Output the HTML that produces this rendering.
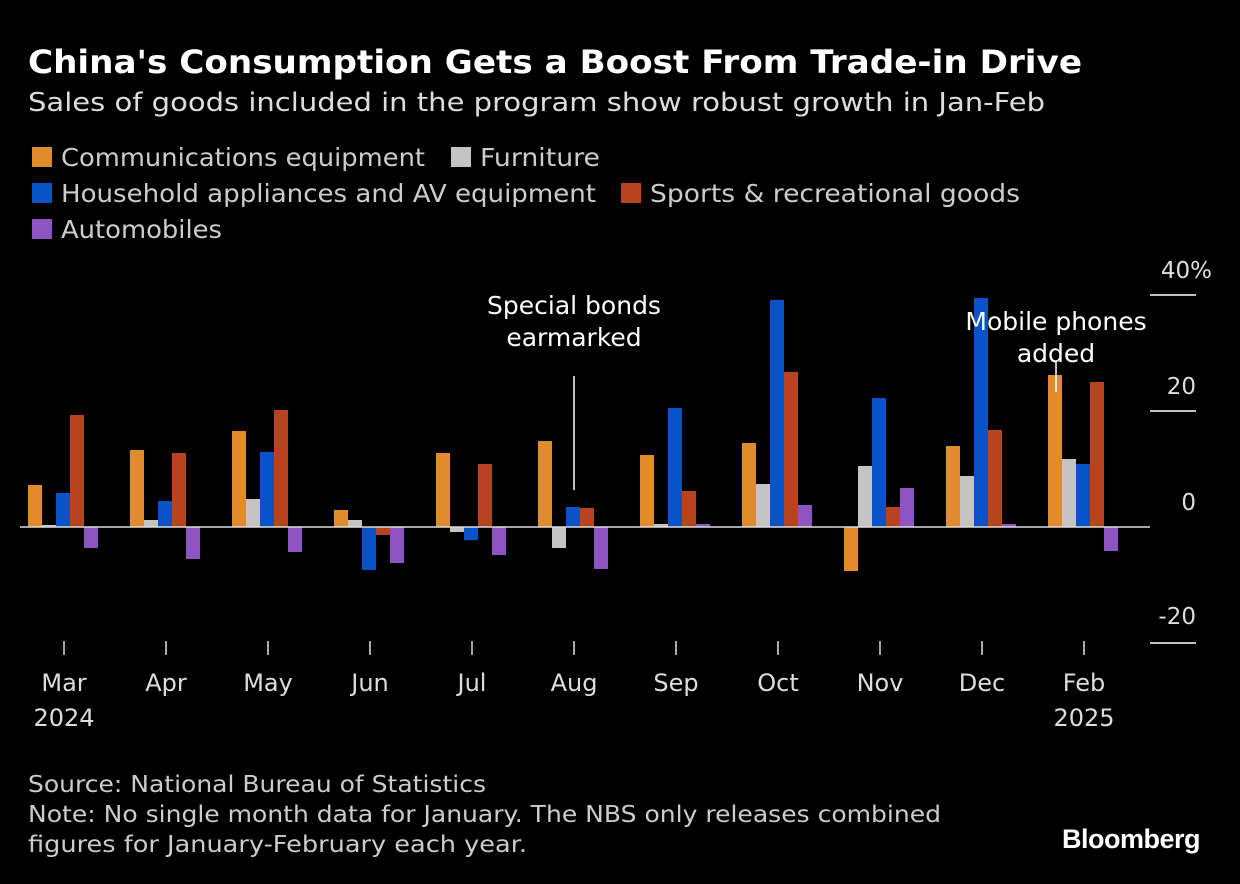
<!DOCTYPE html>
<html><head><meta charset="utf-8"><style>
body{margin:0;background:#000;width:1240px;height:884px;overflow:hidden;font-family:"DejaVu Sans","Liberation Sans",sans-serif;color:#ddd}
svg{position:absolute;left:0;top:0}
</style></head><body>
<svg width="1240" height="884" xmlns="http://www.w3.org/2000/svg" font-family="DejaVu Sans, Liberation Sans, sans-serif">
<text x="28" y="73" fill="#fff" font-size="32" font-weight="bold" textLength="1054" lengthAdjust="spacingAndGlyphs">China's Consumption Gets a Boost From Trade-in Drive</text>
<text x="28" y="111" fill="#ddd" font-size="26" textLength="1017" lengthAdjust="spacingAndGlyphs">Sales of goods included in the program show robust growth in Jan-Feb</text>
<g font-size="25" fill="#ccc">
<rect x="32" y="147" width="20" height="20" fill="#e08c2c"/><text x="61" y="166" textLength="364" lengthAdjust="spacingAndGlyphs">Communications equipment</text>
<rect x="451" y="147" width="20" height="20" fill="#c4c4c4"/><text x="480" y="166" textLength="120" lengthAdjust="spacingAndGlyphs">Furniture</text>
<rect x="32" y="183" width="20" height="20" fill="#0a52c9"/><text x="61" y="202" textLength="535" lengthAdjust="spacingAndGlyphs">Household appliances and AV equipment</text>
<rect x="621" y="183" width="20" height="20" fill="#b8431f"/><text x="650" y="202" textLength="370" lengthAdjust="spacingAndGlyphs">Sports &amp; recreational goods</text>
<rect x="32" y="219" width="20" height="20" fill="#8e55c2"/><text x="61" y="238" textLength="161" lengthAdjust="spacingAndGlyphs">Automobiles</text>
</g>
<g stroke="#fff" stroke-width="1.5">
<line x1="1150" y1="295" x2="1196" y2="295"/><line x1="1150" y1="411" x2="1196" y2="411"/><line x1="1150" y1="643" x2="1196" y2="643"/>
</g>
<g font-size="23" fill="#ddd" text-anchor="end">
<text x="1212" y="278">40%</text><text x="1196" y="394">20</text><text x="1196" y="510">0</text><text x="1196" y="624">-20</text>
</g>
<g id="bars"></g>
<line x1="20" y1="527" x2="1150" y2="527" stroke="#ddd" stroke-width="1.5"/>
<line x1="574" y1="376" x2="574" y2="490" stroke="#fff" stroke-width="1.5"/>
<line x1="1056" y1="362" x2="1056" y2="392" stroke="#fff" stroke-width="1.5"/>
<g font-size="25" fill="#fff" text-anchor="middle">
<text x="574" y="314">Special bonds</text><text x="574" y="346">earmarked</text>
<text x="1056" y="330">Mobile phones</text><text x="1056" y="362">added</text>
</g>
<g id="ticks" stroke="#ddd" stroke-width="1.5"></g>
<g font-size="24" fill="#ddd" text-anchor="middle">
<text x="64" y="691">Mar</text><text x="64" y="726">2024</text>
<text x="166" y="691">Apr</text><text x="268" y="691">May</text><text x="370" y="691">Jun</text>
<text x="472" y="691">Jul</text><text x="574" y="691">Aug</text><text x="676" y="691">Sep</text>
<text x="778" y="691">Oct</text><text x="880" y="691">Nov</text><text x="982" y="691">Dec</text>
<text x="1084" y="691">Feb</text><text x="1084" y="726">2025</text>
</g>
<g font-size="23" fill="#ccc">
<text x="28" y="792" textLength="458" lengthAdjust="spacingAndGlyphs">Source: National Bureau of Statistics</text>
<text x="28" y="822" textLength="913" lengthAdjust="spacingAndGlyphs">Note: No single month data for January. The NBS only releases combined</text>
<text x="28" y="852" textLength="499" lengthAdjust="spacingAndGlyphs">figures for January-February each year.</text>
</g>
<text x="1200" y="848" fill="#fff" font-size="27" font-weight="bold" text-anchor="end" font-family="Liberation Sans, sans-serif" letter-spacing="-0.5">Bloomberg</text>
</svg>
<script>
var tops=[[485,525,493,415,548],[450,520,501,453,559],[431,499,452,410,552],[510,520,570,535,563],[453,532,540,464,555],[441,548,507,508,569],[455,524,408,491,524],[443,484,300,372,505],[571,466,398,507,488],[446,476,298,430,524],[375,459,464,382,551]];
var cols=["#e08c2c","#c4c4c4","#0a52c9","#b8431f","#8e55c2"];
var s="",t="";
for(var g=0;g<11;g++){var c=64+102*g;t+='<line x1="'+c+'" y1="641" x2="'+c+'" y2="655"/>';
for(var k=0;k<5;k++){var y=tops[g][k],x=c-36+14*k;var a=Math.min(y,527),h=Math.abs(527-y);s+='<rect x="'+x+'" y="'+a+'" width="14" height="'+h+'" fill="'+cols[k]+'"/>';}}
document.getElementById("bars").innerHTML=s;document.getElementById("ticks").innerHTML=t;
</script>
</body></html>
